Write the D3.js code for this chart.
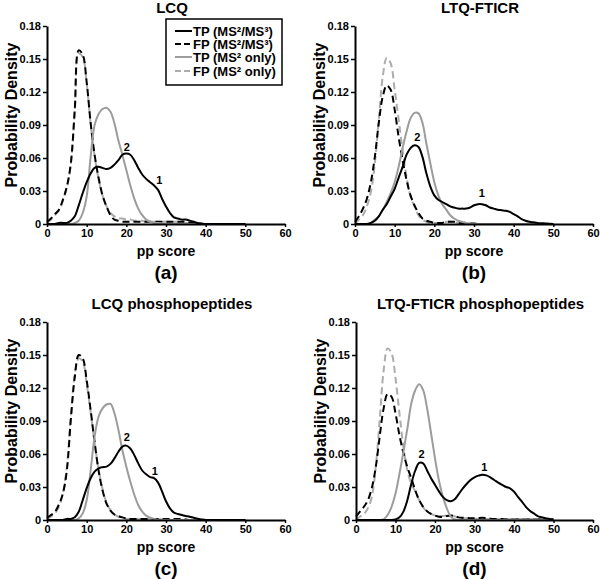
<!DOCTYPE html>
<html><head><meta charset="utf-8">
<script src="https://cdn.jsdelivr.net/npm/d3@7"></script>
<style>
body{margin:0;background:#fff}
svg{display:block}
text{font-family:"Liberation Sans",Arial,sans-serif;font-weight:bold;fill:#000}
</style>
</head><body><svg id="chart" width="600" height="579"></svg>
<script>
// ---- data ----
const scores = [0,1,2,3,4,5,6,7,8,9,10,11,12,13,14,15,16,17,18,19,20,21,22,23,24,25,26,27,28,29,30,
  31,32,33,34,35,36,37,38,39,40,41,42,43,44,45,46,47,48,49,50];

const xTicks = [0,10,20,30,40,50,60];
const yTicks = [0,0.03,0.06,0.09,0.12,0.15,0.18];
const yTickLabels = ["0","0.03","0.06","0.09","0.12","0.15","0.18"];

const panelTitles = ["LCQ","LTQ-FTICR","LCQ phosphopeptides","LTQ-FTICR phosphopeptides"];
const panelTags = ["(a)","(b)","(c)","(d)"];
const seriesNames = ["TP (MS\u00B2/MS\u00B3)","FP (MS\u00B2/MS\u00B3)","TP (MS\u00B2 only)","FP (MS\u00B2 only)"];

// (a) LCQ
const lcqTP = [0,0,0,0.001,0.001,0.001,0.003,0.007,0.017,0.028,0.038,0.046,0.051,0.052,0.051,0.050,0.051,0.054,0.058,0.063,0.064,
  0.063,0.058,0.051,0.045,0.041,0.038,0.035,0.031,0.023,0.016,0.010,0.006,0.005,0.004,0.004,0.003,0.002,0.001,0.0005,0,
  0,0,0,0,0,0,0,0,0,0];
const lcqFP = [0.002,0.005,0.009,0.013,0.022,0.034,0.055,0.104,0.158,0.154,0.129,0.092,0.063,0.042,0.026,0.016,0.008,0.004,0.003,0.002,0.002,
  0.002,0.002,0.002,0.002,0.002,0.002,0.002,0.002,0.002,0.002,0.002,0.002,0.002,0.002,0.002,0.001,0.001,0,0,0,
  0,0,0,0,0,0,0,0,0,0];
const lcqTP2 = [0,0,0,0,0,0,0,0.001,0.003,0.010,0.025,0.061,0.090,0.100,0.1045,0.1057,0.102,0.0915,0.076,0.063,0.049,
  0.035,0.023,0.014,0.008,0.004,0.002,0.001,0.001,0.0005,0,0,0,0,0,0,0,0,0,0,0,
  0,0,0,0,0,0,0,0,0,0];
const lcqFP2 = [0.001,0.004,0.008,0.012,0.021,0.033,0.054,0.102,0.155,0.152,0.128,0.091,0.062,0.041,0.026,0.016,0.010,0.007,0.005,0.005,0.004,
  0.004,0.003,0.003,0.003,0.002,0.002,0.002,0.002,0.002,0.002,0.002,0.002,0.002,0.002,0.001,0.001,0.001,0,0,0,
  0,0,0,0,0,0,0,0,0,0];
const lcqMarks = [{t:"2",x:20.1,y:0.070},{t:"1",x:28.3,y:0.040}];

// (b) LTQ-FTICR
const ftTP = [0,0,0,0,0.001,0.003,0.007,0.013,0.018,0.025,0.032,0.042,0.052,0.063,0.069,0.0715,0.070,0.061,0.046,0.034,0.026,
  0.022,0.020,0.018,0.016,0.015,0.014,0.014,0.014,0.015,0.017,0.018,0.018,0.017,0.015,0.014,0.013,0.0125,0.012,0.011,0.009,
  0.007,0.0045,0.003,0.002,0.0015,0.001,0.0007,0.0005,0.0002,0];
const ftFP = [0.002,0.007,0.014,0.023,0.038,0.061,0.092,0.116,0.126,0.122,0.104,0.079,0.058,0.040,0.026,0.017,0.010,0.005,0.003,0.002,0.001,
  0.001,0.001,0.002,0.002,0.002,0.001,0.001,0.001,0.0005,0.0005,0,0,0,0,0,0,0,0,0,0,
  0,0,0,0,0,0,0,0,0,0];
const ftTP2 = [0,0,0,0,0.001,0.004,0.007,0.013,0.020,0.028,0.038,0.052,0.069,0.084,0.096,0.101,0.1006,0.092,0.073,0.055,0.038,
  0.026,0.018,0.013,0.008,0.005,0.003,0.002,0.001,0.0005,0,0,0,0,0,0,0,0,0,0,0,
  0,0,0,0,0,0,0,0,0,0];
const ftFP2 = [0,0.004,0.008,0.016,0.029,0.055,0.095,0.134,0.151,0.146,0.122,0.095,0.067,0.043,0.025,0.016,0.008,0.004,0.002,0.001,0.001,
  0.001,0.001,0.002,0.002,0.002,0.001,0.001,0.0005,0,0,0,0,0,0,0,0,0,0,0,0,
  0,0,0,0,0,0,0,0,0,0];
const ftMarks = [{t:"2",x:15.7,y:0.079},{t:"1",x:32,y:0.0285}];

// (c) LCQ phosphopeptides
const lcqpTP = [0,0,0,0,0,0.001,0.001,0.0025,0.0075,0.018,0.029,0.038,0.044,0.047,0.048,0.0485,0.051,0.056,0.062,0.0667,0.0676,
  0.065,0.059,0.0515,0.045,0.0415,0.039,0.038,0.034,0.026,0.017,0.0106,0.0067,0.0055,0.0045,0.0037,0.003,0.002,0.0012,0.0005,0,
  0,0,0,0,0,0,0,0,0,0];
const lcqpFP = [0.002,0.0045,0.0075,0.014,0.024,0.045,0.091,0.130,0.150,0.147,0.127,0.100,0.071,0.045,0.027,0.015,0.0085,0.005,0.0036,0.0024,0.0015,
  0.001,0.001,0.001,0.001,0.001,0.001,0.001,0.001,0.001,0.001,0.001,0.001,0.001,0.001,0.0005,0,0,0,0,0,
  0,0,0,0,0,0,0,0,0,0];
const lcqpTP2 = [0,0,0,0,0,0,0,0,0.0015,0.006,0.018,0.045,0.076,0.094,0.1015,0.105,0.1055,0.097,0.082,0.0636,0.0485,
  0.035,0.023,0.0136,0.0076,0.004,0.002,0.001,0,0,0,0,0,0,0,0,0,0,0,0,0,
  0,0,0,0,0,0,0,0,0,0];
const lcqpFP2 = [0.001,0.003,0.006,0.012,0.024,0.048,0.094,0.132,0.147,0.144,0.124,0.098,0.070,0.046,0.028,0.016,0.009,0.005,0.003,0.002,0.001,
  0.001,0.001,0.001,0.001,0.001,0.001,0.001,0.001,0.0005,0,0,0,0,0,0,0,0,0,0,0,
  0,0,0,0,0,0,0,0,0,0];
const lcqpMarks = [{t:"2",x:20.1,y:0.075},{t:"1",x:27.2,y:0.044}];

// (d) LTQ-FTICR phosphopeptides
const ftpTP = [0,0,0,0,0,0,0,0,0,0,0.0006,0.0024,0.0076,0.018,0.033,0.045,0.052,0.0515,0.045,0.038,0.032,
  0.026,0.021,0.018,0.017,0.0188,0.0236,0.0285,0.0327,0.0364,0.0388,0.0403,0.0412,0.0406,0.0388,0.0364,0.034,0.032,0.030,0.0288,0.0258,
  0.021,0.0167,0.012,0.0085,0.006,0.0036,0.0025,0.0015,0.001,0.0006];
const ftpFP = [0.003,0.0076,0.012,0.018,0.029,0.048,0.076,0.1015,0.1145,0.112,0.097,0.077,0.061,0.048,0.038,0.027,0.018,0.012,0.008,0.0055,0.004,
  0.003,0.0027,0.0036,0.004,0.0036,0.0024,0.002,0.0018,0.0016,0.0015,0.0018,0.002,0.0016,0.0012,0.001,0.001,0.0008,0.0005,0.0005,0.0005,
  0.0005,0.0005,0.0005,0.0005,0.0005,0.0005,0.0005,0.0005,0.0005,0.0005];
const ftpTP2 = [0,0,0,0,0,0,0,0.0006,0.0045,0.012,0.024,0.042,0.062,0.083,0.106,0.118,0.1233,0.118,0.1015,0.079,0.056,
  0.036,0.021,0.0106,0.003,0.0005,0,0,0,0,0,0,0,0,0,0,0,0,0,0,0,
  0,0,0,0,0,0,0,0,0,0];
const ftpFP2 = [0,0.003,0.0055,0.0106,0.021,0.048,0.091,0.136,0.156,0.1515,0.129,0.097,0.0667,0.045,0.033,0.026,0.018,0.0115,0.0076,0.0055,0.004,
  0.0036,0.0036,0.004,0.004,0.0033,0.002,0.0017,0.0015,0.0013,0.0012,0.001,0.001,0.001,0.001,0.001,0.001,0.001,0.001,0.001,0.001,
  0.001,0.001,0.001,0.001,0.001,0.001,0.001,0.001,0.001,0.001];
const ftpMarks = [{t:"2",x:16.6,y:0.060},{t:"1",x:32.5,y:0.0476}];

// ---- styles ----
const seriesStyle = [
  {color:"#000", dash:null},
  {color:"#000", dash:"7,4"},
  {color:"#9c9c9c", dash:null},
  {color:"#acacac", dash:"7,4"}
];

const panels = [
  {title:panelTitles[0], tag:panelTags[0], series:[lcqTP,lcqFP,lcqTP2,lcqFP2], marks:lcqMarks, legend:true},
  {title:panelTitles[1], tag:panelTags[1], series:[ftTP,ftFP,ftTP2,ftFP2], marks:ftMarks},
  {title:panelTitles[2], tag:panelTags[2], series:[lcqpTP,lcqpFP,lcqpTP2,lcqpFP2], marks:lcqpMarks},
  {title:panelTitles[3], tag:panelTags[3], series:[ftpTP,ftpFP,ftpTP2,ftpFP2], marks:ftpMarks}
];
const boxes = [
  {left:47,top:26,w:238,h:198},
  {left:355,top:26,w:238,h:198},
  {left:47,top:322,w:238,h:198},
  {left:356,top:322,w:237,h:198}
];

const svg = d3.select("#chart");
const drawOrder = [3,1,2,0];

panels.forEach((p,pi)=>{
  const b = boxes[pi];
  const g = svg.append("g").attr("transform",`translate(${b.left},${b.top})`);
  const x = d3.scaleLinear().domain([0,60]).range([0,b.w]);
  const y = d3.scaleLinear().domain([0,0.18]).range([b.h,0]);
  const line = d3.line().x((d,i)=>x(scores[i])).y(d=>y(d)).curve(d3.curveCatmullRom.alpha(0.5));

  drawOrder.forEach(si=>{
    const st = seriesStyle[si];
    g.append("path").attr("d",line(p.series[si]))
      .attr("fill","none").attr("stroke",st.color).attr("stroke-width",2)
      .attr("stroke-dasharray",st.dash).attr("stroke-linejoin","round");
  });

  // axes
  const xa = g.append("g").attr("transform",`translate(0,${b.h})`)
    .call(d3.axisBottom(x).tickValues(xTicks).tickFormat(d3.format("d")).tickSize(3).tickSizeOuter(0).tickPadding(2));
  const ya = g.append("g")
    .call(d3.axisLeft(y).tickValues(yTicks).tickFormat((d,i)=>yTickLabels[i]).tickSize(4).tickSizeOuter(0).tickPadding(2));
  [xa,ya].forEach(a=>{
    a.select(".domain").attr("stroke","#000").attr("stroke-width",2);
    a.selectAll(".tick line").attr("stroke","#000").attr("stroke-width",1.5);
    a.selectAll("text").attr("font-size",11).attr("font-weight","bold")
      .attr("font-family","'Liberation Sans',Arial,sans-serif").attr("fill","#000");
  });

  // peak marks
  g.selectAll(".mk").data(p.marks).enter().append("text")
    .attr("x",d=>x(d.x)).attr("y",d=>y(d.y)).attr("dy","0.35em")
    .attr("text-anchor","middle").attr("font-size",11).text(d=>d.t);

  // titles
  g.append("text").attr("x",b.w/2+6).attr("y",-13).attr("text-anchor","middle")
    .attr("font-size",15).text(p.title);
  g.append("text").attr("x",b.w/2).attr("y",b.h+32).attr("text-anchor","middle")
    .attr("font-size",14).text("pp score");
  g.append("text").attr("x",b.w/2).attr("y",b.h+55).attr("text-anchor","middle")
    .attr("font-size",19).text(p.tag);
  g.append("text").attr("transform",`translate(-36,${b.h/2-10}) rotate(-90)`)
    .attr("text-anchor","middle").attr("dy","0.35em").attr("font-size",16).text("Probability Density");

  if(p.legend){
    const lg = svg.append("g").attr("transform","translate(166,19)");
    lg.append("rect").attr("width",116).attr("height",66).attr("fill","#fff")
      .attr("stroke","#000").attr("stroke-width",1.5);
    const rowsY = [12,25,38,52];
    seriesNames.forEach((nm,i)=>{
      const st = seriesStyle[i];
      lg.append("line").attr("x1",9).attr("x2",26).attr("y1",rowsY[i]).attr("y2",rowsY[i])
        .attr("stroke",st.color).attr("stroke-width",2).attr("stroke-dasharray",st.dash?"6,3":null);
      lg.append("text").attr("x",27).attr("y",rowsY[i]).attr("dy","0.36em").attr("font-size",13).text(nm);
    });
  }
});
</script>
</body></html>
